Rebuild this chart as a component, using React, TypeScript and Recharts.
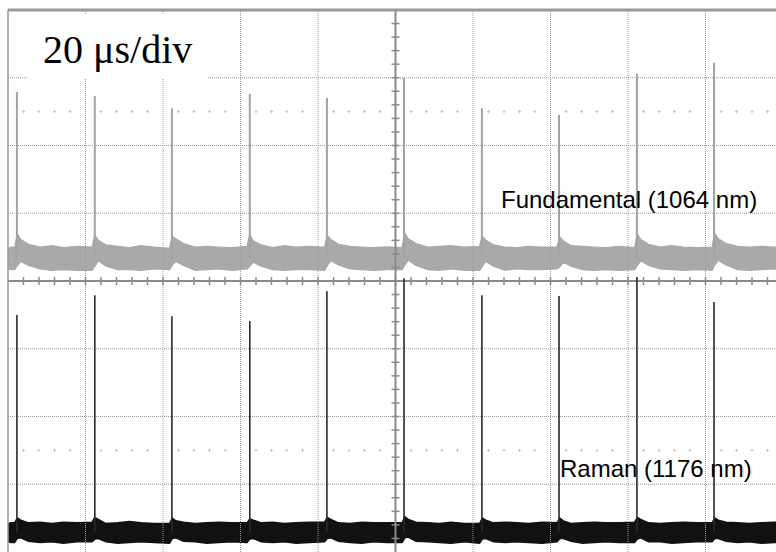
import { Area, ComposedChart, Line, ReferenceLine, Scatter, XAxis, YAxis } from "recharts";

// scope screen: 10 x 8 divisions, x in div (20 us/div), y in div (0 = centre line)
const peakX = [0.115, 1.12, 2.115, 3.12, 4.115, 5.11, 6.115, 7.11, 8.115, 9.11];
const fundTop = [2.79, 2.73, 2.55, 2.76, 2.7, 3.0, 2.55, 2.45, 3.06, 3.22];
const ramanTop = [-0.5, -0.21, -0.52, -0.59, -0.15, 0.04, -0.21, -0.22, 0.06, -0.31];
const fundBase = 0.35;
const ramanBase = -3.7;

// noise band outline, sampled by eye
const bandX = [
  0, 0.04,
  0.085, 0.12, 0.165, 0.265, 0.415, 0.565, 0.715, 0.89,
  1.085, 1.12, 1.165, 1.265, 1.415, 1.565, 1.715, 1.89,
  2.085, 2.12, 2.165, 2.265, 2.415, 2.565, 2.715, 2.89,
  3.085, 3.12, 3.165, 3.265, 3.415, 3.565, 3.715, 3.89,
  4.085, 4.12, 4.165, 4.265, 4.415, 4.565, 4.715, 4.89,
  5.085, 5.12, 5.165, 5.265, 5.415, 5.565, 5.715, 5.89,
  6.085, 6.12, 6.165, 6.265, 6.415, 6.565, 6.715, 6.89,
  7.085, 7.12, 7.165, 7.265, 7.415, 7.565, 7.715, 7.89,
  8.085, 8.12, 8.165, 8.265, 8.415, 8.565, 8.715, 8.89,
  9.085, 9.12, 9.165, 9.265, 9.415, 9.565, 9.715, 9.89,
  10,
];
const fundHi = [
  0.47, 0.5,
  0.49, 0.69, 0.61, 0.54, 0.5, 0.52, 0.49, 0.51,
  0.5, 0.67, 0.6, 0.53, 0.51, 0.49, 0.52, 0.5,
  0.48, 0.66, 0.62, 0.55, 0.5, 0.51, 0.5, 0.49,
  0.51, 0.68, 0.59, 0.53, 0.49, 0.52, 0.5, 0.51,
  0.5, 0.67, 0.61, 0.54, 0.51, 0.5, 0.49, 0.5,
  0.49, 0.7, 0.62, 0.55, 0.5, 0.51, 0.52, 0.5,
  0.51, 0.66, 0.6, 0.53, 0.5, 0.49, 0.51, 0.5,
  0.5, 0.65, 0.59, 0.52, 0.51, 0.5, 0.49, 0.51,
  0.49, 0.69, 0.61, 0.54, 0.5, 0.52, 0.5, 0.49,
  0.5, 0.7, 0.62, 0.55, 0.51, 0.5, 0.51, 0.5,
  0.5,
];
const fundLo = [
  0.18, 0.17,
  0.17, 0.23, 0.29, 0.23, 0.18, 0.16, 0.17, 0.16,
  0.16, 0.22, 0.3, 0.22, 0.17, 0.17, 0.16, 0.18,
  0.17, 0.24, 0.29, 0.23, 0.16, 0.17, 0.18, 0.16,
  0.18, 0.22, 0.28, 0.22, 0.17, 0.16, 0.17, 0.17,
  0.16, 0.23, 0.3, 0.24, 0.18, 0.17, 0.16, 0.17,
  0.17, 0.24, 0.31, 0.23, 0.17, 0.16, 0.18, 0.16,
  0.16, 0.22, 0.29, 0.22, 0.16, 0.18, 0.17, 0.17,
  0.18, 0.21, 0.28, 0.22, 0.17, 0.16, 0.17, 0.16,
  0.17, 0.23, 0.3, 0.23, 0.18, 0.17, 0.16, 0.17,
  0.16, 0.24, 0.31, 0.24, 0.17, 0.16, 0.17, 0.18,
  0.17,
];
const ramanHi = [
  -3.58, -3.57,
  -3.57, -3.5, -3.53, -3.57, -3.56, -3.58, -3.56, -3.57,
  -3.56, -3.49, -3.52, -3.58, -3.57, -3.55, -3.57, -3.58,
  -3.58, -3.5, -3.54, -3.56, -3.58, -3.57, -3.56, -3.57,
  -3.57, -3.51, -3.53, -3.57, -3.56, -3.58, -3.57, -3.56,
  -3.56, -3.49, -3.52, -3.57, -3.58, -3.56, -3.57, -3.57,
  -3.57, -3.48, -3.52, -3.56, -3.57, -3.58, -3.56, -3.58,
  -3.58, -3.5, -3.53, -3.57, -3.56, -3.57, -3.58, -3.56,
  -3.57, -3.5, -3.54, -3.58, -3.57, -3.56, -3.57, -3.57,
  -3.56, -3.49, -3.52, -3.57, -3.58, -3.57, -3.56, -3.57,
  -3.57, -3.5, -3.53, -3.56, -3.57, -3.58, -3.57, -3.56,
  -3.57,
];
const ramanLo = [
  -3.85, -3.86,
  -3.86, -3.8, -3.79, -3.84, -3.86, -3.85, -3.87, -3.85,
  -3.85, -3.81, -3.8, -3.85, -3.87, -3.86, -3.85, -3.86,
  -3.87, -3.8, -3.79, -3.84, -3.85, -3.87, -3.86, -3.85,
  -3.86, -3.81, -3.8, -3.85, -3.86, -3.85, -3.87, -3.86,
  -3.85, -3.8, -3.79, -3.84, -3.86, -3.87, -3.85, -3.86,
  -3.86, -3.79, -3.78, -3.84, -3.85, -3.86, -3.87, -3.85,
  -3.87, -3.81, -3.8, -3.85, -3.86, -3.85, -3.86, -3.87,
  -3.85, -3.8, -3.8, -3.84, -3.87, -3.86, -3.85, -3.86,
  -3.86, -3.81, -3.79, -3.85, -3.85, -3.87, -3.86, -3.85,
  -3.85, -3.8, -3.8, -3.84, -3.86, -3.85, -3.87, -3.86,
  -3.86,
];

const gridX = [1, 2, 3, 4, 6, 7, 8, 9];
const gridY = [-3, -2, -1, 1, 2, 3];

const bandRows = bandX.map((x, i) => ({
  x,
  fund: [fundLo[i], fundHi[i]],
  raman: [ramanLo[i], ramanHi[i]],
}));

const spikes = (tops: number[], base: number) =>
  peakX.flatMap((x, i) => [
    { x, y: base },
    { x, y: tops[i] },
    { x, y: null },
  ]);

// minor graticule marks, every 1/5 div
const minorX: number[] = [];
for (let i = 1; i < 50; i++) minorX.push(i / 5);
const minorY: number[] = [];
for (let i = -19; i < 20; i++) minorY.push(i / 5);
const dotX = minorX.filter((v) => Math.abs(v - Math.round(v)) > 0.01);

const hTick = (p: any) => (
  <line x1={p.cx} x2={p.cx} y1={p.cy - 4} y2={p.cy + 4} stroke="#8a8a8a" strokeWidth={1.5} />
);
const vTick = (p: any) => (
  <line x1={p.cx - 4} x2={p.cx + 4} y1={p.cy} y2={p.cy} stroke="#8a8a8a" strokeWidth={1.5} />
);
const dotMark = (p: any) => (
  <path d={`M${p.cx - 1.5},${p.cy}H${p.cx + 1.5}M${p.cx},${p.cy - 1.5}V${p.cy + 1.5}`} stroke="#c4c4c4" strokeWidth={1} />
);

export default function App() {
  return (
    <div style={{ position: "fixed", left: 0, top: 0, width: 776, height: 552, overflow: "hidden", background: "#fff" }}>
      <ComposedChart width={784} height={552} data={bandRows} margin={{ top: 10, right: 1, bottom: 0, left: 8 }}>
        <XAxis dataKey="x" type="number" domain={[0, 10]} hide allowDataOverflow />
        <YAxis type="number" domain={[-4, 4]} hide allowDataOverflow />
        {gridX.map((v) => (
          <ReferenceLine key={"gx" + v} x={v} stroke="#9a9a9a" strokeDasharray="1 1" />
        ))}
        {gridY.map((v) => (
          <ReferenceLine key={"gy" + v} y={v} stroke="#9a9a9a" strokeDasharray="1 1" />
        ))}
        <ReferenceLine x={0} stroke="#999" strokeWidth={1.5} />
        <ReferenceLine y={4} stroke="#999" strokeWidth={3} />
        <ReferenceLine x={5} stroke="#8a8a8a" strokeWidth={2} />
        <ReferenceLine y={0} stroke="#8a8a8a" strokeWidth={2} />
        <Scatter data={minorX.map((x) => ({ x, y: 0 }))} dataKey="y" shape={hTick} isAnimationActive={false} />
        <Scatter data={minorY.map((y) => ({ x: 5, y }))} dataKey="y" shape={vTick} isAnimationActive={false} />
        <Scatter data={dotX.map((x) => ({ x, y: 2.5 }))} dataKey="y" shape={dotMark} isAnimationActive={false} />
        <Scatter data={dotX.map((x) => ({ x, y: -2.5 }))} dataKey="y" shape={dotMark} isAnimationActive={false} />
        <Area dataKey="fund" type="linear" stroke="#a9a9a9" strokeWidth={1.5} fill="#a9a9a9" fillOpacity={1} dot={false} activeDot={false} isAnimationActive={false} />
        <Area dataKey="raman" type="linear" stroke="#111" strokeWidth={1.5} fill="#111" fillOpacity={1} dot={false} activeDot={false} isAnimationActive={false} />
        <Line data={spikes(fundTop, fundBase)} dataKey="y" type="linear" stroke="#a3a3a3" strokeWidth={2} dot={false} activeDot={false} connectNulls={false} isAnimationActive={false} />
        <Line data={spikes(ramanTop, ramanBase)} dataKey="y" type="linear" stroke="#2a2a2a" strokeWidth={1.6} dot={false} activeDot={false} connectNulls={false} isAnimationActive={false} />
      </ComposedChart>
      <div style={{ position: "absolute", left: 27, top: 15, width: 180, height: 64, background: "#fff" }} />
      <div style={{ position: "absolute", left: 43, top: 29.5, fontFamily: "'Liberation Serif', serif", fontSize: 40, lineHeight: "40px", color: "#000", whiteSpace: "nowrap" }}>
        20 μs/div
      </div>
      <div style={{ position: "absolute", left: 501, top: 187.7, fontFamily: "'Liberation Sans', Arial, sans-serif", fontSize: 24, lineHeight: "24px", color: "#000", whiteSpace: "nowrap" }}>
        Fundamental (1064 nm)
      </div>
      <div style={{ position: "absolute", left: 560, top: 456.7, fontFamily: "'Liberation Sans', Arial, sans-serif", fontSize: 24, lineHeight: "24px", color: "#000", whiteSpace: "nowrap" }}>
        Raman (1176 nm)
      </div>
    </div>
  );
}
